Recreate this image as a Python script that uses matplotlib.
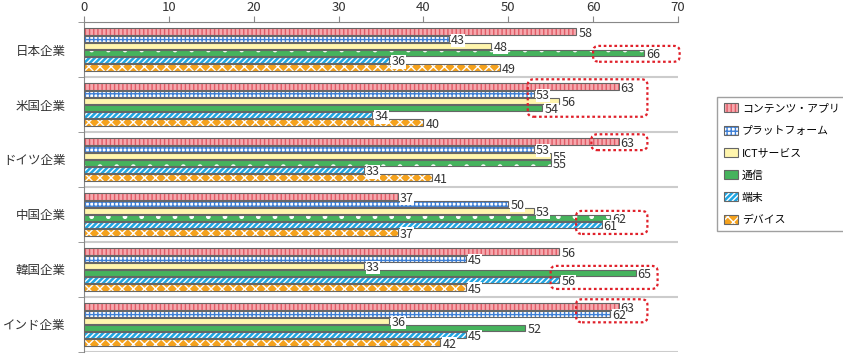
import matplotlib.pyplot as plt
from matplotlib.patches import Patch, FancyBboxPatch
from matplotlib.legend_handler import HandlerTuple

plt.rcParams['font.family'] = ['Noto Sans CJK JP', 'DejaVu Sans']
plt.rcParams['hatch.linewidth'] = 1.0

# dane
firmy = ['日本企業', '米国企業', 'ドイツ企業', '中国企業', '韓国企業', 'インド企業']
serie = ['コンテンツ・アプリ', 'プラットフォーム', 'ICTサービス', '通信', '端末', 'デバイス']
wartosci = [
    [58, 43, 48, 66, 36, 49],
    [63, 53, 56, 54, 34, 40],
    [63, 53, 55, 55, 33, 41],
    [37, 50, 53, 62, 61, 37],
    [56, 45, 33, 65, 56, 45],
    [63, 62, 36, 52, 45, 42],
]
# wyróżnione serie w każdej grupie i zakres ramki (x)
wyroznione = [[3], [0, 1, 2, 3], [0], [3, 4], [3, 4], [0, 1]]
ramki_x = [(60, 70.2), (52.3, 66.4), (59.8, 66.4), (58, 66.4), (55, 67.6), (58, 66.4)]

# styl serii: kolor wypełnienia, kreskowanie, kolor kreskowania
style = [
    ('#f6a9ae', '||||', '#e05a66'),
    ('#ffffff', '++++', '#3d7fd6'),
    ('#fff5ad', '', '#fff5ad'),
    ('#46b35d', '.', '#ffffff'),
    ('#1fa6e3', '//////', '#ffffff'),
    ('#f5a21c', 'xxx', '#ffffff'),
]
obrys = '#666666'

fig = plt.figure(figsize=(8.43, 3.55), dpi=100)
ax = fig.add_axes([0.0996, 0.0085, 0.7046, 0.9295])

n = len(firmy)
krok = 0.131
wys = 0.115

for g, wiersz in enumerate(wartosci):
    srodek = n - 1 - g
    for j, v in enumerate(wiersz):
        y = srodek + (2.5 - j) * krok
        fc, h, hc = style[j]
        ax.barh(y, v, height=wys, color=fc, hatch=h, edgecolor=hc, linewidth=0, zorder=2)
        ax.barh(y, v, height=wys, fill=False, edgecolor=obrys, linewidth=0.8, zorder=3)
        ax.text(v + 0.25, y - 0.03, str(v), va='center', ha='left', fontsize=9, color='#333333',
                zorder=5, bbox=dict(facecolor='white', edgecolor='none', pad=0.2))
    # ramka wyróżnienia
    ys = [srodek + (2.5 - j) * krok for j in wyroznione[g]]
    y0 = min(ys) - krok * 1.2
    y1 = max(ys) + krok * 1.0
    x0, x1 = ramki_x[g]
    ax.add_patch(FancyBboxPatch((x0, y0), x1 - x0, y1 - y0,
                                boxstyle='round,pad=0,rounding_size=0.7',
                                mutation_aspect=0.14, fill=False, edgecolor='#e0202a',
                                linestyle=(0, (1.2, 1.2)), linewidth=1.6, zorder=6,
                                clip_on=False))

for g in range(n + 1):
    ax.axhline(g - 0.5, color='#cccccc', linewidth=1.5, zorder=1)

ax.set_xlim(0, 70)
ax.set_ylim(-0.5, n - 0.5)
ax.set_xticks(range(0, 71, 10))
ax.xaxis.tick_top()
ax.tick_params(axis='x', colors='#888888', labelcolor='#333333', labelsize=9.5, length=4, pad=2)
ax.set_yticks([n - 1 - g for g in range(n)])
ax.set_yticklabels(firmy, fontsize=9, color='#333333')
ax.set_yticks([g - 0.5 for g in range(n + 1)], minor=True)
ax.tick_params(axis='y', which='major', length=0, pad=13)
ax.tick_params(axis='y', which='minor', length=4, color='#888888')
for s in ['right', 'bottom']:
    ax.spines[s].set_visible(False)
ax.spines['top'].set_color('#888888')
ax.spines['left'].set_color('#888888')

uchwyty = [(Patch(facecolor=fc, hatch=h, edgecolor=hc, linewidth=0),
            Patch(fill=False, edgecolor=obrys, linewidth=0.8)) for fc, h, hc in style]
fig.legend(uchwyty, serie, handler_map={tuple: HandlerTuple(ndivide=1)},
           loc='upper left', bbox_to_anchor=(0.851, 0.727), fontsize=7.8,
           frameon=True, fancybox=False, edgecolor='#888888', handlelength=1.3,
           handleheight=0.9, handletextpad=0.35, labelspacing=1.1, borderpad=0.6,
           borderaxespad=0)

fig.savefig('out.png', dpi=100)
